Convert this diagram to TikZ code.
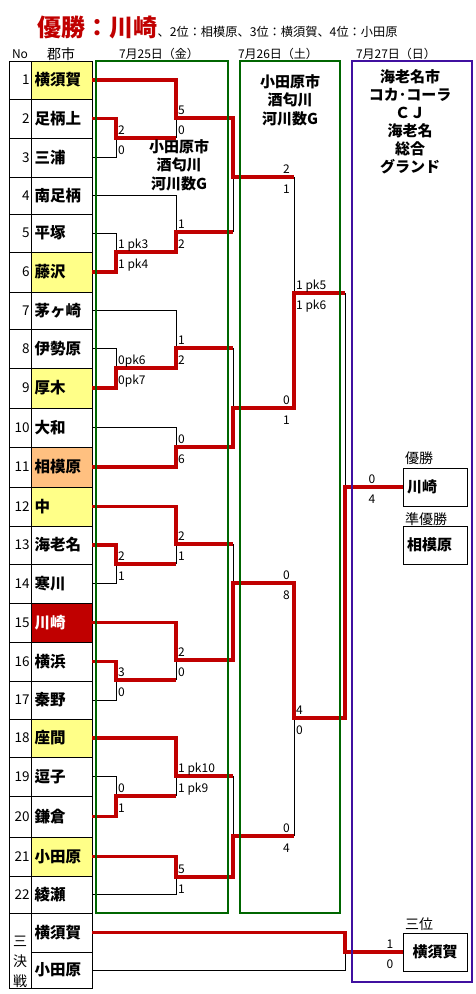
\documentclass[tikz,border=0pt]{standalone}
\usepackage{fontspec}
\setmainfont{Noto Sans CJK JP}
\usetikzlibrary{positioning}
\definecolor{winred}{RGB}{192,0,0}
\definecolor{cellyel}{RGB}{255,255,136}
\definecolor{cellorg}{RGB}{255,192,128}
\definecolor{boxgrn}{RGB}{0,102,0}
\definecolor{boxpur}{RGB}{64,16,160}

\begin{document}
\begin{tikzpicture}[x=1pt,y=-1pt,
 nocell/.style={draw,line width=0.8pt,minimum width=22pt,inner sep=0pt,text width=19pt,align=right,font=\fontsize{13.5}{13.5}\selectfont},
 cell/.style={draw,line width=0.8pt,minimum width=61pt,inner sep=0pt,text width=54pt,align=left,font=\fontsize{15.5}{15.5}\bfseries},
 yel/.style={fill=cellyel},
 win/.style={draw=winred,line width=3.2pt},
 lose/.style={draw=black,line width=0.8pt},
 sc/.style={font=\fontsize{12}{12}\selectfont,inner sep=0pt},
 sa/.style={sc,anchor=base west,xshift=2pt,yshift=3.5pt},
 sb/.style={sc,anchor=base west,xshift=2pt,yshift=-16.5pt},
 ra/.style={sc,anchor=base east,xshift=-4pt,yshift=3.5pt},
 rb/.style={sc,anchor=base east,xshift=-4pt,yshift=-16.5pt},
 ca/.style={sc,anchor=base,yshift=3.5pt},
 cb/.style={sc,anchor=base,yshift=-16.5pt},
 venue/.style={align=center,font=\fontsize{15}{18.5}\bfseries},
 rbox/.style={draw,line width=0.8pt,minimum width=64pt,minimum height=38pt,inner sep=0pt,font=\fontsize{15}{15}\bfseries},
 tag/.style={anchor=base west,inner sep=0pt,font=\fontsize{14}{14}\selectfont}]
\useasboundingbox (0,0) rectangle (476,994);

% title and headers
\node[anchor=base west,inner sep=0pt,text=winred,font=\fontsize{24}{24}\bfseries] (ttl) at (37,36) {優勝：川崎};
\node[anchor=base west,inner sep=0pt,font=\fontsize{12.2}{12.2}\selectfont] (sub) at (ttl.base east) {、2位：相模原、3位：横須賀、4位：小田原};
\node[font=\fontsize{12}{12}\selectfont] (hno) at (20,54) {No};
\node[font=\fontsize{14}{14}\selectfont] (hcity) at (61,54) {郡市};
\node[font=\fontsize{12}{12}\selectfont] (day1) at (159,54) {7月25日（金）};
\node[font=\fontsize{12}{12}\selectfont] (day2) at (278,54) {7月26日（土）};
\node[font=\fontsize{12}{12}\selectfont] (day3) at (396,54) {7月27日（日）};

% number column
\node[nocell,minimum height=38pt] (n1) at (20,80) {1};
\node[nocell,minimum height=39pt] (n2) at (20,118.5) {2};
\node[nocell,minimum height=39pt] (n3) at (20,157.5) {3};
\node[nocell,minimum height=37pt] (n4) at (20,195.5) {4};
\node[nocell,minimum height=38pt] (n5) at (20,233) {5};
\node[nocell,minimum height=40pt] (n6) at (20,272) {6};
\node[nocell,minimum height=37pt] (n7) at (20,310.5) {7};
\node[nocell,minimum height=39pt] (n8) at (20,348.5) {8};
\node[nocell,minimum height=40pt] (n9) at (20,388) {9};
\node[nocell,minimum height=39pt] (n10) at (20,427.5) {10};
\node[nocell,minimum height=40pt] (n11) at (20,467) {11};
\node[nocell,minimum height=39pt] (n12) at (20,506.5) {12};
\node[nocell,minimum height=38pt] (n13) at (20,545) {13};
\node[nocell,minimum height=39pt] (n14) at (20,583.5) {14};
\node[nocell,minimum height=39pt] (n15) at (20,622.5) {15};
\node[nocell,minimum height=39pt] (n16) at (20,661.5) {16};
\node[nocell,minimum height=38pt] (n17) at (20,700) {17};
\node[nocell,minimum height=38pt] (n18) at (20,738) {18};
\node[nocell,minimum height=39pt] (n19) at (20,776.5) {19};
\node[nocell,minimum height=41pt] (n20) at (20,816.5) {20};
\node[nocell,minimum height=39pt] (n21) at (20,856.5) {21};
\node[nocell,minimum height=37pt] (n22) at (20,894.5) {22};
\node[draw,line width=0.8pt,minimum width=22pt,minimum height=75pt,inner sep=0pt] (n3rd) at (20,950.5) {};
\node[align=center,inner sep=0pt,font=\fontsize{14}{20}\selectfont] (n3rdtxt) at (20,962) {三\\決\\戦};

% team column
\node[cell,yel,minimum height=38pt] (t1) at (61.5,80) {横須賀};
\node[cell,minimum height=39pt] (t2) at (61.5,118.5) {足柄上};
\node[cell,minimum height=39pt] (t3) at (61.5,157.5) {三浦};
\node[cell,minimum height=37pt] (t4) at (61.5,195.5) {南足柄};
\node[cell,minimum height=38pt] (t5) at (61.5,233) {平塚};
\node[cell,yel,minimum height=40pt] (t6) at (61.5,272) {藤沢};
\node[cell,minimum height=37pt] (t7) at (61.5,310.5) {茅ヶ崎};
\node[cell,minimum height=39pt] (t8) at (61.5,348.5) {伊勢原};
\node[cell,yel,minimum height=40pt] (t9) at (61.5,388) {厚木};
\node[cell,minimum height=39pt] (t10) at (61.5,427.5) {大和};
\node[cell,fill=cellorg,minimum height=40pt] (t11) at (61.5,467) {相模原};
\node[cell,yel,minimum height=39pt] (t12) at (61.5,506.5) {中};
\node[cell,minimum height=38pt] (t13) at (61.5,545) {海老名};
\node[cell,minimum height=39pt] (t14) at (61.5,583.5) {寒川};
\node[cell,fill=winred,text=white,minimum height=39pt] (t15) at (61.5,622.5) {川崎};
\node[cell,minimum height=39pt] (t16) at (61.5,661.5) {横浜};
\node[cell,minimum height=38pt] (t17) at (61.5,700) {秦野};
\node[cell,yel,minimum height=38pt] (t18) at (61.5,738) {座間};
\node[cell,minimum height=39pt] (t19) at (61.5,776.5) {逗子};
\node[cell,minimum height=41pt] (t20) at (61.5,816.5) {鎌倉};
\node[cell,yel,minimum height=39pt] (t21) at (61.5,856.5) {小田原};
\node[cell,minimum height=37pt] (t22) at (61.5,894.5) {綾瀬};
\node[cell,minimum height=39pt] (tA) at (61.5,932.5) {横須賀};
\node[cell,minimum height=36pt] (tB) at (61.5,970) {小田原};

% result boxes
\node[rbox,text width=56pt,align=left] (champ) at (435,487) {川崎};
\node[rbox,text width=56pt,align=left] (second) at (435,545) {相模原};
\node[rbox] (third) at (435,952) {横須賀};
\node[tag] (champtag) at (405,463) {優勝};
\node[tag] (secondtag) at (405,524) {準優勝};
\node[tag] (thirdtag) at (405,929) {三位};

% match points
\coordinate (r1a) at (116,138);
\coordinate (r1b) at (116,252);
\coordinate (r1c) at (116,368);
\coordinate (r1d) at (116,564);
\coordinate (r1e) at (116,680);
\coordinate (r1f) at (116,796);
\coordinate (r2a) at (176,118);
\coordinate (r2b) at (176,232);
\coordinate (r2c) at (176,348);
\coordinate (r2d) at (176,447);
\coordinate (r2e) at (176,544);
\coordinate (r2f) at (176,660);
\coordinate (r2g) at (176,776);
\coordinate (r2h) at (176,877);
\coordinate (r3a) at (233,177);
\coordinate (r3b) at (233,408);
\coordinate (r3c) at (233,583);
\coordinate (r3d) at (233,836);
\coordinate (r4a) at (294,293);
\coordinate (r4b) at (294,718);
\coordinate (fin) at (345,487);
\coordinate (r3p) at (345,952);

% losing lines
\draw[lose] (t3.east) -| (r1a);
\draw[lose] (r1a -| r2a) -- (r2a);
\draw[lose] (r3a -| r4a) -- (r4a);
\draw[lose] (t4.east) -| (r2b);
\draw[lose] (t5.east) -| (r1b);
\draw[lose] (r2b -| r3a) -- (r3a);
\draw[lose] (t7.east) -| (r2c);
\draw[lose] (t8.east) -| (r1c);
\draw[lose] (r2c -| r3b) -- (r3b);
\draw[lose] (t10.east) -| (r2d);
\draw[lose] (r4a -| fin) -- (fin);
\draw[lose] (r2e -| r3c) -- (r3c);
\draw[lose] (r1d -| r2e) -- (r2e);
\draw[lose] (t14.east) -| (r1d);
\draw[lose] (r1e -| r2f) -- (r2f);
\draw[lose] (t17.east) -| (r1e);
\draw[lose] (r2g -| r3d) -- (r3d);
\draw[lose] (t19.east) -| (r1f);
\draw[lose] (r1f -| r2g) -- (r2g);
\draw[lose] (r3d -| r4b) -- (r4b);
\draw[lose] (t22.east) -| (r2h);
\draw[lose] (tB.east) -| (r3p);

% winning lines
\draw[win] (t1.east) -| (r2a) -| (r3a) -- (r3a -| r4a);
\draw[win] (t2.east) -| (r1a) -- (r1a -| r2a);
\draw[win] (t6.east) -| (r1b) -| (r2b) -- (r2b -| r3a);
\draw[win] (t9.east) -| (r1c) -| (r2c) -- (r2c -| r3b);
\draw[win] (t11.east) -| (r2d) -| (r3b) -| (r4a) -- (r4a -| fin);
\draw[win] (t12.east) -| (r2e) -- (r2e -| r3c);
\draw[win] (t13.east) -| (r1d) -- (r1d -| r2e);
\draw[win] (t15.east) -| (r2f) -| (r3c) -| (r4b) -| (fin) -- (champ.west);
\draw[win] (t16.east) -| (r1e) -- (r1e -| r2f);
\draw[win] (t18.east) -| (r2g) -- (r2g -| r3d);
\draw[win] (t20.east) -| (r1f) -- (r1f -| r2g);
\draw[win] (t21.east) -| (r2h) -| (r3d) -- (r3d -| r4b);
\draw[win] (tA.east) -| (r3p) -- (third.west);

% scores
\node[sa] (r1a-t) at (r1a) {2};
\node[sb] (r1a-b) at (r1a) {0};
\node[sa] (r1b-t) at (r1b) {1 pk3};
\node[sb] (r1b-b) at (r1b) {1 pk4};
\node[sa] (r1c-t) at (r1c) {0pk6};
\node[sb] (r1c-b) at (r1c) {0pk7};
\node[sa] (r1d-t) at (r1d) {2};
\node[sb] (r1d-b) at (r1d) {1};
\node[sa] (r1e-t) at (r1e) {3};
\node[sb] (r1e-b) at (r1e) {0};
\node[sa] (r1f-t) at (r1f) {0};
\node[sb] (r1f-b) at (r1f) {1};
\node[sa] (r2a-t) at (r2a) {5};
\node[sb] (r2a-b) at (r2a) {0};
\node[sa] (r2b-t) at (r2b) {1};
\node[sb] (r2b-b) at (r2b) {2};
\node[sa] (r2c-t) at (r2c) {1};
\node[sb] (r2c-b) at (r2c) {2};
\node[sa] (r2d-t) at (r2d) {0};
\node[sb] (r2d-b) at (r2d) {6};
\node[sa] (r2e-t) at (r2e) {2};
\node[sb] (r2e-b) at (r2e) {1};
\node[sa] (r2f-t) at (r2f) {2};
\node[sb] (r2f-b) at (r2f) {0};
\node[sa] (r2g-t) at (r2g) {1 pk10};
\node[sb] (r2g-b) at (r2g) {1 pk9};
\node[sa] (r2h-t) at (r2h) {5};
\node[sb] (r2h-b) at (r2h) {1};
\node[ra] (r3a-t) at (r3a -| r4a) {2};
\node[rb] (r3a-b) at (r3a -| r4a) {1};
\node[ra] (r3b-t) at (r3b -| r4a) {0};
\node[rb] (r3b-b) at (r3b -| r4a) {1};
\node[ra] (r3c-t) at (r3c -| r4a) {0};
\node[rb] (r3c-b) at (r3c -| r4a) {8};
\node[ra] (r3d-t) at (r3d -| r4a) {0};
\node[rb] (r3d-b) at (r3d -| r4a) {4};
\node[sa] (r4a-t) at (r4a) {1 pk5};
\node[sb] (r4a-b) at (r4a) {1 pk6};
\node[sa] (r4b-t) at (r4b) {4};
\node[sb] (r4b-b) at (r4b) {0};
\node[ca] (fin-t) at (372,487) {0};
\node[cb] (fin-b) at (372,487) {4};
\node[ca] (r3p-t) at (390,952) {1};
\node[cb] (r3p-b) at (390,952) {0};

% venues
\node[venue] (venue1) at (179,165) {小田原市\\酒匂川\\河川数G};
\node[venue] (venue2) at (290,100) {小田原市\\酒匂川\\河川数G};
\node[venue,font=\fontsize{15}{18}\bfseries] (venue3) at (410,122) {海老名市\\コカ･コーラ\\ＣＪ\\海老名\\総合\\グランド};

% day frames
\draw[boxgrn,line width=2.2pt] (96,61) rectangle (228,913);
\draw[boxgrn,line width=2.2pt] (240,61) rectangle (340,913);
\draw[boxpur,line width=2.4pt] (352,61) rectangle (472,982);
\end{tikzpicture}
\end{document}
